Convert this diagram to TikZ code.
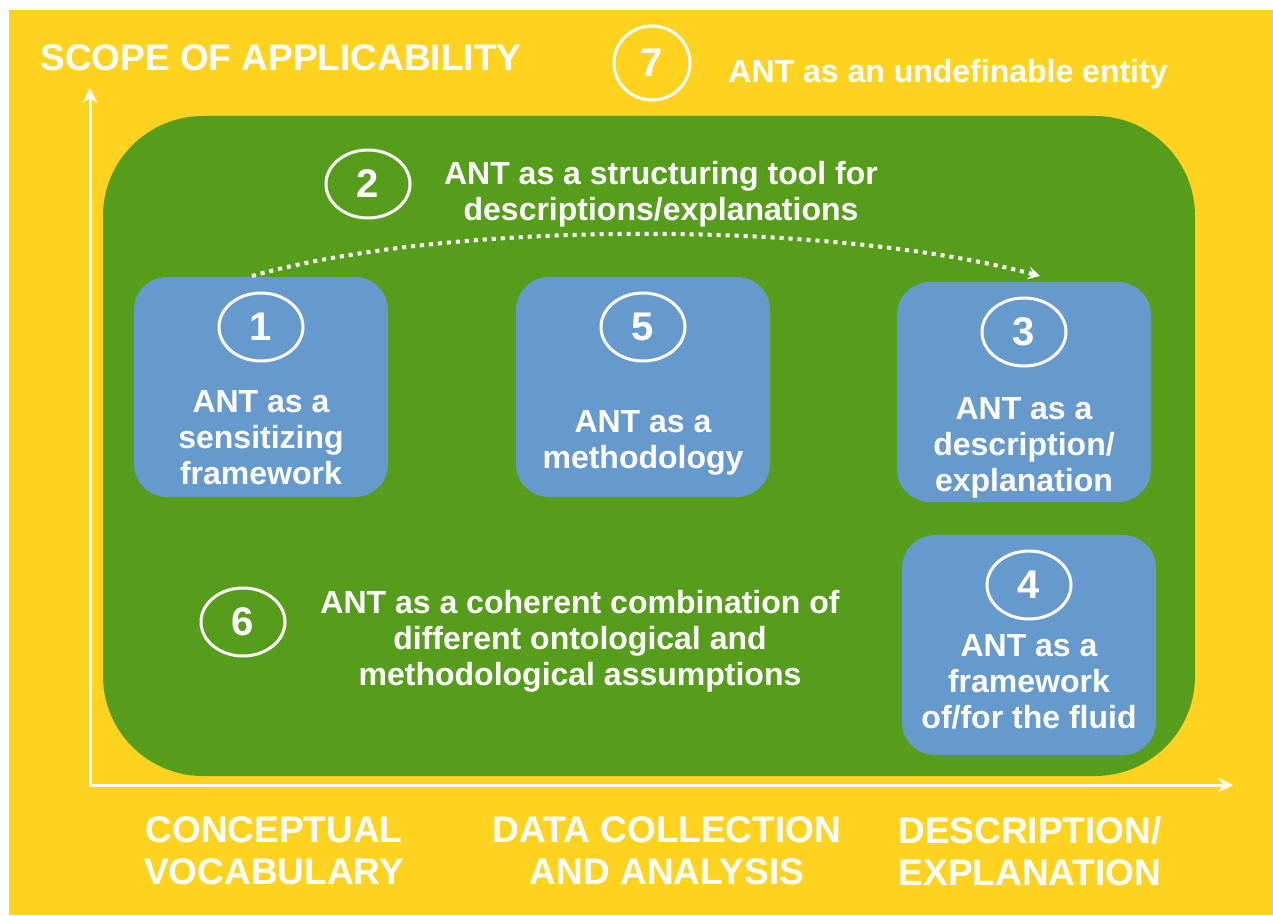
\documentclass[tikz,border=0pt]{standalone}
\usepackage{fontspec}
\setmainfont{Liberation Sans}
\usepackage{tikz}
\usetikzlibrary{positioning, arrows.meta, shapes.geometric}

\definecolor{antyellow}{HTML}{FFD320}
\definecolor{antgreen}{HTML}{579D1C}
\definecolor{antblue}{HTML}{6699CC}

\tikzset{
  stagebox/.style={fill=antblue, rounded corners=16.5pt, inner sep=0pt,
    minimum width=127pt, minimum height=110pt},
  numcircle/.style={ellipse, draw=white, line width=1.5pt, text=white, inner sep=0pt,
    minimum width=42pt, minimum height=34pt, font=\bfseries\fontsize{20}{22}\selectfont},
  antlabel/.style={text=white, align=center, inner sep=0pt,
    font=\bfseries\fontsize{16}{18}\selectfont},
  axislabel/.style={text=white, align=center, inner sep=0pt,
    font=\bfseries\fontsize{18.5}{21}\selectfont},
  axis/.style={draw=white, line width=1.5pt,
    {Stealth[length=7.5pt,width=7.5pt,inset=2.5pt]}-{Stealth[length=7.5pt,width=7.5pt,inset=2.5pt]}}
}

\begin{document}
\begin{tikzpicture}[x=0.5pt, y=-0.5pt]
    % Page and background
    \useasboundingbox (0,0) rectangle (1273,915);
    \fill[white] (0,0) rectangle (1273,915);
    \fill[antyellow] (9,10) rectangle (1273,915);

    % Green area
    \node[fill=antgreen, rounded corners=50pt, inner sep=0pt,
      minimum width=546pt, minimum height=330pt] (area) at (649,446) {};

    % Axes
    \coordinate (origin) at (90,785);
    \coordinate (ytip) at (90,88);
    \coordinate (xtip) at (1233,785);
    \draw[axis] (ytip) -- (origin) -- (xtip);

    \node[axislabel, anchor=base west] (scope) at (40,71) {SCOPE OF APPLICABILITY};
    \node[axislabel] (vocab) at (274,851) {CONCEPTUAL\\VOCABULARY};
    \node[axislabel] (data) at (667,851) {DATA COLLECTION\\AND ANALYSIS};
    \node[axislabel] (expl) at (1030,851) {DESCRIPTION/\\EXPLANATION};

    % Blue boxes with their numbers
    \foreach \n/\x/\y in {1/261/387, 5/643/387, 3/1024/392, 4/1029/645} {
      \node[stagebox] (box\n) at (\x,\y) {};
      \node[numcircle] (num\n) at (\x,\y-60) {\n};
    }
    \node[antlabel] (text1) at (261,438) {ANT as a\\sensitizing\\framework};
    \node[antlabel] (text5) at (643,443) {ANT as a\\methodology};
    \node[antlabel] (text3) at (1024,448) {ANT as a\\description/\\explanation};
    \node[antlabel] (text4) at (1029,682) {ANT as a\\framework\\of/for the fluid};

    % Numbers and texts on green and yellow
    \node[numcircle] (num2) at (368,184) {2};
    \node[antlabel] (text2) at (661,194) {ANT as a structuring tool for\\descriptions/explanations};
    \node[numcircle] (num6) at (243,622) {6};
    \node[antlabel] (text6) at (580,641) {ANT as a coherent combination of\\different ontological and\\methodological assumptions};
    \node[numcircle, minimum width=38pt, minimum height=37pt] (num7) at (652,63) {7};
    \node[antlabel, anchor=base west] (text7) at (728,83) {ANT as an undefinable entity};

    % Dotted arrow from 1 to 3
    \coordinate (arcstart) at (252,276);
    \coordinate (arcend) at (1040,276);
    \draw[white, line width=2pt, dash pattern=on 2pt off 2.5pt,
      -{Stealth[length=6pt,width=6.5pt,inset=2.5pt]}]
      (arcstart) .. controls (450,220) and (830,220) .. (arcend);
\end{tikzpicture}
\end{document}
